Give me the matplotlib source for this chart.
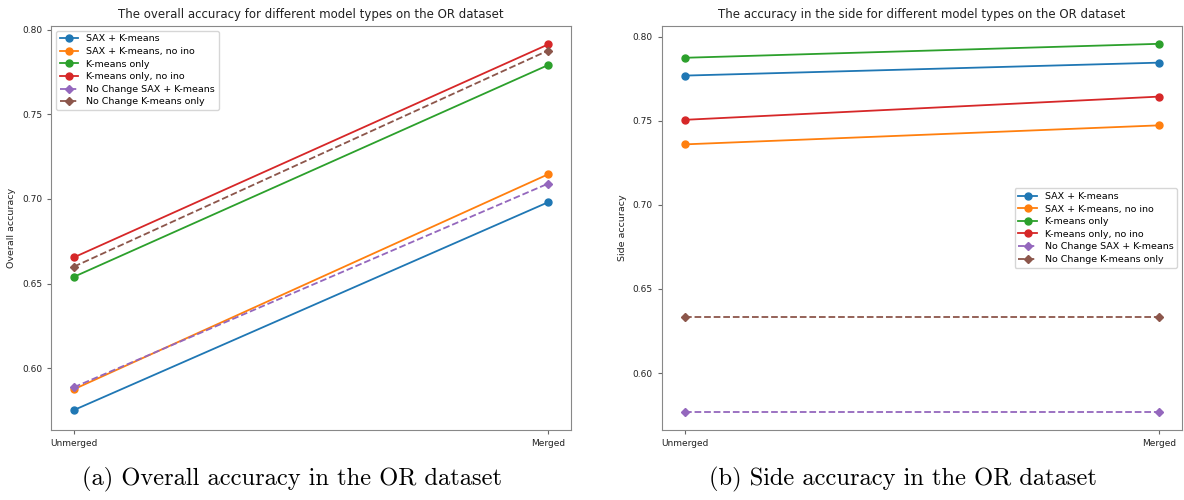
import matplotlib.pyplot as plt

#%% Data
stages = ["Unmerged", "Merged"]
labels = ["SAX + K-means", "SAX + K-means, no ino", "K-means only",
          "K-means only, no ino", "No Change SAX + K-means", "No Change K-means only"]

# overall accuracy (left)
overall_sax = [0.5753, 0.698]
overall_sax_noino = [0.5876, 0.7145]
overall_km = [0.654, 0.779]
overall_km_noino = [0.6655, 0.7912]
overall_nc_sax = [0.5888, 0.709]
overall_nc_km = [0.660, 0.7876]

# side accuracy (right)
side_sax = [0.7769, 0.7846]
side_sax_noino = [0.736, 0.7473]
side_km = [0.7875, 0.7958]
side_km_noino = [0.7506, 0.7644]
side_nc_sax = [0.5769, 0.5769]
side_nc_km = [0.6334, 0.6334]

colors = ['#1f77b4', '#ff7f0e', '#2ca02c', '#d62728', '#9467bd', '#8c564b']


def draw(ax, series, title, ylabel, loc):
    for i, (vals, lab) in enumerate(zip(series, labels)):
        if i < 4:
            ax.plot(stages, vals, marker='o', ms=5, color=colors[i], label=lab, lw=1.3)
        else:
            ax.plot(stages, vals, marker='D', ms=4.5, ls='--', color=colors[i], label=lab, lw=1.3)
    ax.set_title(title, fontsize=8.5, color='#222222')
    ax.set_ylabel(ylabel, fontsize=6.8, color='#222222')
    ax.tick_params(labelsize=6.5, length=3, labelcolor='#222222', color='#666666')
    for s in ax.spines.values():
        s.set_color('#888888')
    ax.set_xlim(-0.0485, 1.0485)
    ax.legend(loc=loc, fontsize=6.8, handlelength=2, labelspacing=0.38)


fig = plt.figure(figsize=(11.84, 5), dpi=100)
ax1 = fig.add_axes([0.0431, 0.14, 0.4392, 0.808])
ax2 = fig.add_axes([0.5591, 0.14, 0.4392, 0.808])

draw(ax1, [overall_sax, overall_sax_noino, overall_km, overall_km_noino, overall_nc_sax, overall_nc_km],
     "The overall accuracy for different model types on the OR dataset", "Overall accuracy", 'upper left')
ax1.set_ylim(0.5635, 0.8021)
ax1.set_yticks([0.60, 0.65, 0.70, 0.75, 0.80])

draw(ax2, [side_sax, side_sax_noino, side_km, side_km_noino, side_nc_sax, side_nc_km],
     "The accuracy in the side for different model types on the OR dataset", "Side accuracy", 'center right')
ax2.set_ylim(0.5661, 0.8064)
ax2.set_yticks([0.60, 0.65, 0.70, 0.75, 0.80])

fig.text(0.2466, 0.03, "(a) Overall accuracy in the OR dataset", ha='center', fontsize=17.6, family='cmr10')
fig.text(0.763, 0.03, "(b) Side accuracy in the OR dataset", ha='center', fontsize=17.6, family='cmr10')

fig.savefig('out.png', dpi=100)
